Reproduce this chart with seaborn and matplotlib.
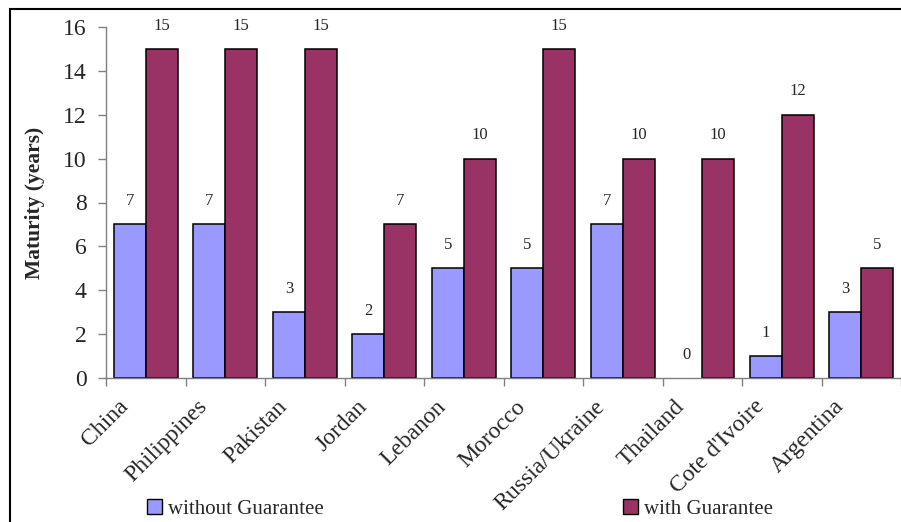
import pandas as pd
import numpy as np
import matplotlib
matplotlib.use('Agg')
import matplotlib.pyplot as plt
import matplotlib.transforms as mtransforms
import seaborn as sns
from matplotlib.patches import Patch, Rectangle

# data
countries = ['China', 'Philippines', 'Pakistan', 'Jordan', 'Lebanon',
             'Morocco', 'Russia/Ukraine', 'Thailand', "Cote d'Ivoire", 'Argentina']
without_guarantee = [7, 7, 3, 2, 5, 5, 7, 0, 1, 3]
with_guarantee = [15, 15, 15, 7, 10, 15, 10, 10, 12, 5]
series = ['without Guarantee', 'with Guarantee']
colors = ['#9999FF', '#993366']

df = pd.DataFrame({
    'country': countries * 2,
    'type': [series[0]] * len(countries) + [series[1]] * len(countries),
    'years': without_guarantee + with_guarantee,
})

sns.set_style('white')
plt.rcParams['font.family'] = ['Liberation Serif', 'DejaVu Serif']

fig = plt.figure(figsize=(9.01, 5.22), dpi=100)
ax = fig.add_axes([106 / 901, 1 - 378 / 522, 1 - 106 / 901, (378 - 27) / 522])

sns.barplot(data=df, x='country', y='years', hue='type', hue_order=series,
            palette=colors, width=0.80, edgecolor='black', linewidth=1.1,
            saturation=1, legend=False, ax=ax)

# zero-height bars show no outline
for p in ax.patches:
    if p.get_height() == 0:
        p.set_edgecolor('none')

for cont in ax.containers:
    ax.bar_label(cont, padding=11, fontsize=12)

ax.set_ylim(0, 16)
ax.set_xlim(-0.5, 9.5)
ax.set_yticks(range(0, 17, 2))
ax.set_xticks(np.arange(-0.5, 10, 1), minor=True)
ax.tick_params(axis='y', which='major', length=6, direction='out', color='#808080',
               width=1, labelsize=17, pad=8, left=True)
ax.tick_params(axis='x', which='major', length=0, labelsize=17, pad=8)
ax.tick_params(axis='x', which='minor', length=6, direction='out', color='#808080',
               width=1, bottom=True)
# Excel-style placement of the slanted labels
shift = mtransforms.ScaledTranslation(-0.28, -0.07, fig.dpi_scale_trans)
for lbl in ax.get_xticklabels():
    lbl.set_rotation(45)
    lbl.set_ha('right')
    lbl.set_va('top')
    lbl.set_rotation_mode('anchor')
    lbl.set_transform(lbl.get_transform() + shift)

ax.set_xlabel('')
ax.set_ylabel('Maturity (years)', fontsize=15.5, fontweight='bold')
ax.yaxis.set_label_coords(-0.077, 0.5)

for s in ['top', 'right']:
    ax.spines[s].set_visible(False)
for s in ['left', 'bottom']:
    ax.spines[s].set_color('#808080')
    ax.spines[s].set_linewidth(1)

# legend entries placed at the bottom, far apart
h1 = [Patch(facecolor=colors[0], edgecolor='black', linewidth=1)]
h2 = [Patch(facecolor=colors[1], edgecolor='black', linewidth=1)]
leg1 = fig.legend(h1, [series[0]], loc='center left', bbox_to_anchor=(147 / 901, 1 - 509 / 522),
                  frameon=False, fontsize=15, handlelength=0.7, handleheight=0.7,
                  handletextpad=0.3, borderpad=0, borderaxespad=0)
leg2 = fig.legend(h2, [series[1]], loc='center left', bbox_to_anchor=(623 / 901, 1 - 509 / 522),
                  frameon=False, fontsize=15, handlelength=0.7, handleheight=0.7,
                  handletextpad=0.3, borderpad=0, borderaxespad=0)

# outer frame
fig.patches.append(Rectangle((9.5 / 901, -0.02), 1.0, 1 - 9 / 522 + 0.02, transform=fig.transFigure,
                             fill=False, edgecolor='black', linewidth=1.5))

fig.savefig('out.png', dpi=100)
